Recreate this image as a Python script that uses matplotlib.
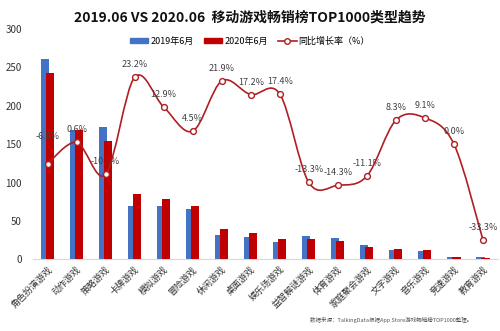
import numpy as np
import matplotlib
matplotlib.use("Agg")
import matplotlib.pyplot as plt
from matplotlib.path import Path
import matplotlib.patches as patches
from matplotlib.lines import Line2D

plt.rcParams['font.family'] = ['Noto Sans CJK SC', 'DejaVu Sans']
plt.rcParams['axes.unicode_minus'] = False

# %% data
categories = ["角色扮演游戏", "动作游戏", "策略游戏", "卡牌游戏", "模拟游戏", "冒险游戏",
              "休闲游戏", "桌面游戏", "娱乐场游戏", "益智解谜游戏", "体育游戏",
              "家庭聚会游戏", "文字游戏", "音乐游戏", "竞速游戏", "教育游戏"]
jun_2019 = [261, 168, 172, 69, 70, 66, 32, 29, 23, 30, 28, 18, 12, 11, 3, 3]
jun_2020 = [243, 169, 154, 85, 79, 69, 39, 34, 27, 26, 24, 16, 13, 12, 3, 2]
growth = [-6.9, 0.6, -10.5, 23.2, 12.9, 4.5, 21.9, 17.2, 17.4, -13.3, -14.3,
          -11.1, 8.3, 9.1, 0.0, -33.3]
growth_labels = ["-6.9%", "0.6%", "-10.5%", "23.2%", "12.9%", "4.5%", "21.9%", "17.2%",
                 "17.4%", "-13.3%", "-14.3%", "-11.1%", "8.3%", "9.1%", "0.0%", "-33.3%"]

blue = "#4472C4"
red = "#C00000"
line_red = "#B01E23"

fig = plt.figure(figsize=(5, 3.31), dpi=100)
ax = fig.add_axes([0.066, 0.2166, 0.929, 0.6961])
x = np.arange(len(categories))
w = 0.28
off = 0.086
ax.bar(x - off, jun_2019, w, color=blue, zorder=2)
ax.bar(x + off, jun_2020, w, color=red, zorder=3)
ax.set_xlim(-0.5, len(categories) - 0.5)
ax.set_ylim(0, 300)
ax.set_yticks([0, 50, 100, 150, 200, 250, 300])
ax.tick_params(axis='y', length=0, labelsize=7, pad=8, labelcolor="#333333")
ax.set_xticks(x)
ax.set_xticklabels(categories, rotation=45, ha='right', rotation_mode='anchor',
                   fontsize=6.5, color="#333333")
ax.tick_params(axis='x', length=0, pad=4)
for s in ['top', 'right', 'left']:
    ax.spines[s].set_visible(False)
ax.spines['bottom'].set_color("#D9D9D9")

# smoothed growth line on hidden secondary axis
ax2 = ax.twinx()
ax2.set_ylim(-40, 40)
ax2.axis('off')
pts = np.column_stack([x, growth]).astype(float)
ext = np.vstack([pts[0], pts, pts[-1]])
verts = [tuple(pts[0])]
codes = [Path.MOVETO]
for i in range(len(pts) - 1):
    p0, p1, p2, p3 = ext[i], ext[i + 1], ext[i + 2], ext[i + 3]
    c1 = p1 + (p2 - p0) / 6
    c2 = p2 - (p3 - p1) / 6
    verts += [tuple(c1), tuple(c2), tuple(p2)]
    codes += [Path.CURVE4] * 3
ax2.add_patch(patches.PathPatch(Path(verts, codes), fill=False, edgecolor=line_red,
                                lw=1.2, zorder=4))
ax2.plot(x, growth, 'o', ms=4.2, mfc='white', mec=line_red, mew=1.0, zorder=5)
for i, (g, lab) in enumerate(zip(growth, growth_labels)):
    dy = 20 if i == 0 else 9
    ax2.annotate(lab, (i, g), xytext=(0, dy), textcoords='offset points',
                 ha='center', va='center', fontsize=6.5, color="#404040", zorder=6)

fig.text(0.5, 0.948, "2019.06 VS 2020.06  移动游戏畅销榜TOP1000类型趋势",
         ha='center', va='center', fontsize=10, fontweight='bold', color="#111111")

handles = [patches.Patch(color=blue, label="2019年6月"),
           patches.Patch(color=red, label="2020年6月"),
           Line2D([0], [0], color=line_red, lw=1.2, marker='o', ms=4, mfc='white',
                  mec=line_red, label="同比增长率（%）")]
fig.legend(handles=handles, loc='center', bbox_to_anchor=(0.5, 0.876), ncol=3,
           frameon=False, fontsize=6.5, handlelength=2.0, handleheight=0.5,
           columnspacing=1.2, handletextpad=0.2)

fig.text(0.944, 0.033, "数据来源：TalkingData根据App Store游戏畅销榜TOP1000整理。",
         ha='right', va='center', fontsize=4.0, color="#555555", style='italic')

fig.savefig("out.png", dpi=100)
